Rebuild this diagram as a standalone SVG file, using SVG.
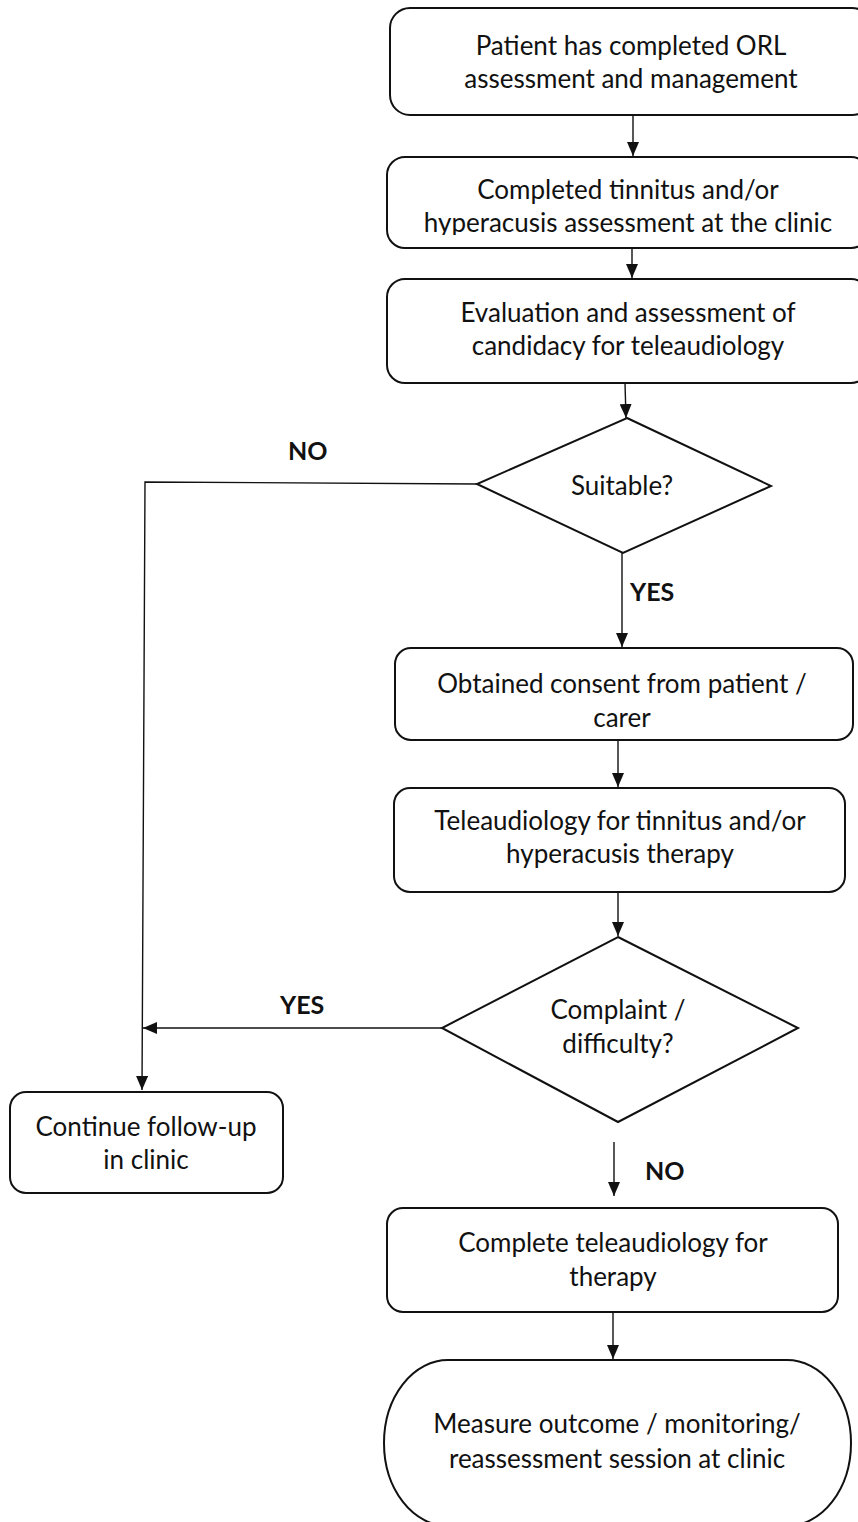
<svg xmlns="http://www.w3.org/2000/svg" width="858" height="1522" viewBox="0 0 858 1522">
<style>
.box{fill:#fff;stroke:#111;stroke-width:2}
.t{font-family:Lato,"Open Sans","Liberation Sans",sans-serif;font-size:26px;fill:#111;text-anchor:middle}
.lbl{font-family:Lato,"Open Sans","Liberation Sans",sans-serif;font-size:25px;font-weight:bold;fill:#111}
.c{fill:none;stroke:#111;stroke-width:1.4}
</style>
<defs>
<marker id="ah" viewBox="0 0 14 12" refX="14" refY="6" markerWidth="14" markerHeight="12" markerUnits="userSpaceOnUse" orient="auto">
<path d="M0,0 L14,6 L0,12 Z" fill="#111"/>
</marker>
<clipPath id="clip2"><rect x="387" y="157" width="480" height="78"/></clipPath>
</defs>
<rect width="858" height="1522" fill="#fff"/>
<g id="connectors">
<line class="c" x1="633" y1="115" x2="633" y2="156" marker-end="url(#ah)"/>
<line class="c" x1="632" y1="248" x2="632" y2="278" marker-end="url(#ah)"/>
<line class="c" x1="625" y1="383" x2="626" y2="418" marker-end="url(#ah)"/>
<polyline class="c" points="477,484 145,482 142,1090" marker-end="url(#ah)"/>
<line class="c" x1="622" y1="553" x2="622" y2="647" marker-end="url(#ah)"/>
<line class="c" x1="618" y1="740" x2="618" y2="787" marker-end="url(#ah)"/>
<line class="c" x1="618" y1="892" x2="618" y2="936" marker-end="url(#ah)"/>
<line class="c" x1="442" y1="1028" x2="143" y2="1028" marker-end="url(#ah)"/>
<line class="c" x1="614" y1="1142" x2="614" y2="1196" marker-end="url(#ah)"/>
<line class="c" x1="613" y1="1312" x2="613" y2="1359" marker-end="url(#ah)"/>
<text class="lbl" x="288" y="460">NO</text>
<text class="lbl" x="630" y="601">YES</text>
<text class="lbl" x="280" y="1014">YES</text>
<text class="lbl" x="645" y="1180">NO</text>
</g>
<g id="n1">
<rect class="box" x="390" y="8" width="482" height="107" rx="20"/>
<text class="t" x="631" y="55">Patient has completed ORL</text>
<text class="t" x="631" y="88">assessment and management</text>
</g>
<g id="n2">
<rect class="box" x="387" y="157" width="482" height="91" rx="18"/>
<text class="t" x="628" y="199">Completed tinnitus and/or</text>
<text class="t" x="628" y="232" clip-path="url(#clip2)">hyperacusis assessment at the clinic</text>
</g>
<g id="n3">
<rect class="box" x="387" y="279" width="482" height="104" rx="18"/>
<text class="t" x="628" y="322">Evaluation and assessment of</text>
<text class="t" x="628" y="355">candidacy for teleaudiology</text>
</g>
<g id="d1">
<polygon class="box" points="627,418 771,486 623,553 477,484"/>
<text class="t" x="622" y="495">Suitable?</text>
</g>
<g id="n4">
<rect class="box" x="395" y="648" width="458" height="92" rx="16"/>
<text class="t" x="622" y="693">Obtained consent from patient /</text>
<text class="t" x="622" y="727">carer</text>
</g>
<g id="n5">
<rect class="box" x="394" y="788" width="451" height="104" rx="16"/>
<text class="t" x="620" y="830">Teleaudiology for tinnitus and/or</text>
<text class="t" x="620" y="863">hyperacusis therapy</text>
</g>
<g id="d2">
<polygon class="box" points="618,937 798,1028 618,1122 442,1028"/>
<text class="t" x="618" y="1019">Complaint /</text>
<text class="t" x="618" y="1053">difficulty?</text>
</g>
<g id="n6">
<rect class="box" x="10" y="1092" width="273" height="101" rx="16"/>
<text class="t" x="146" y="1136">Continue follow-up</text>
<text class="t" x="146" y="1169">in clinic</text>
</g>
<g id="n7">
<rect class="box" x="387" y="1208" width="451" height="104" rx="16"/>
<text class="t" x="613" y="1252">Complete teleaudiology for</text>
<text class="t" x="613" y="1286">therapy</text>
</g>
<g id="n8">
<rect class="box" x="384" y="1360" width="467" height="166" rx="64" ry="83"/>
<text class="t" x="617" y="1433">Measure outcome / monitoring/</text>
<text class="t" x="617" y="1468">reassessment session at clinic</text>
</g>
</svg>
